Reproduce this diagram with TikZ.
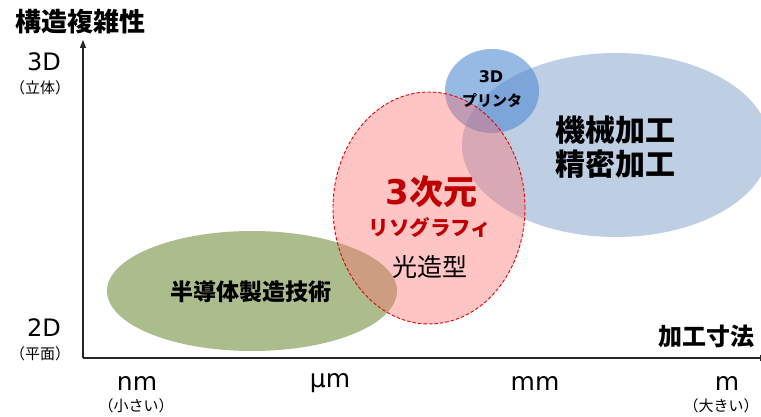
\documentclass[tikz,border=0pt]{standalone}
\usepackage{fontspec}
\setmainfont{Noto Sans CJK JP}
\newfontfamily\lat{DejaVu Sans}
\usetikzlibrary{arrows.meta}
\definecolor{grn}{RGB}{171,189,141}
\definecolor{bigblue}{RGB}{190,207,228}
\definecolor{smblue}{RGB}{80,140,210}
\definecolor{pinkfill}{RGB}{255,110,110}
\definecolor{redline}{RGB}{230,0,0}
\definecolor{darkred}{RGB}{192,0,0}
\tikzset{
  axis/.style={line width=1.2pt, draw=black!85},
  bigj/.style={font=\fontsize{30}{37}\selectfont\bfseries, align=center},
  unit/.style={font=\lat\fontsize{25}{28}\selectfont},
  paren/.style={font=\fontsize{15}{17}\selectfont, inner sep=1pt},
  axlabel/.style={font=\fontsize{26}{30}\selectfont\bfseries},
}
\begin{document}
\begin{tikzpicture}[x=1pt,y=-1pt]
\clip (0,0) rectangle (761,417);
\fill[white] (0,0) rectangle (761,417);
% ellipses
\fill[grn] (252,291) ellipse [x radius=145pt, y radius=60pt];
\fill[bigblue] (616,145) ellipse [x radius=154pt, y radius=92pt];
\fill[smblue, fill opacity=0.6] (492,91) ellipse [x radius=47pt, y radius=42pt];
\fill[pinkfill, fill opacity=0.4] (429,208) ellipse [x radius=96pt, y radius=116pt];
\draw[redline, line width=0.9pt, dash pattern=on 3.5pt off 2pt] (429,208) ellipse [x radius=96pt, y radius=116pt];
% axes
\coordinate (O) at (83,358);
\coordinate (Ytop) at (83,40);
\coordinate (Xend) at (768,358);
\draw[axis, -{Triangle[length=8pt,width=6pt]}] (O) -- (Ytop);
\draw[axis, -{Triangle[length=8pt,width=6pt]}] (O) -- (Xend);
% axis titles
\node[axlabel] (ytitle) at (81,22) {構造複雑性};
\node[font=\fontsize{24}{28}\selectfont\bfseries] (xtitle) at (706,336) {加工寸法};
% y labels
\node[font=\lat\fontsize{24}{28}\selectfont] (d3) at (44,62) {3D};
\node[paren] (d3p) at (40,88) {（立体）};
\node[font=\lat\fontsize{24}{28}\selectfont] (d2) at (44,328) {2D};
\node[paren] (d2p) at (40,354) {（平面）};
% x labels
\node[unit] (nm) at (137,383) {nm};
\node[paren] (nmp) at (136,406) {（小さい）};
\node[unit] (um) at (330,383) {μm};
\node[unit] (mm) at (535,383) {mm};
\node[unit] (m) at (727,383) {m};
\node[paren] (mp) at (721,406) {（大きい）};
% ellipse labels
\node[font=\fontsize{23}{26}\selectfont\bfseries] (semi) at (251,292) {半導体製造技術};
\node[bigj] (mech) at (615,147) {機械加工\\[-3pt]精密加工};
\node[font=\lat\fontsize{16}{18}\selectfont\bfseries] (p3d) at (491,77) {3D};
\node[font=\fontsize{15}{17}\selectfont\bfseries] (printer) at (492,101) {プリンタ};
\node[font=\lat\fontsize{34}{38}\selectfont\bfseries, text=darkred, inner sep=0pt] (three) at (397,192) {3};
\node[font=\fontsize{34}{38}\selectfont\bfseries, text=darkred, anchor=west, inner sep=0pt] (jigen) at (three.east) {次元};
\node[font=\fontsize{20.5}{24}\selectfont\bfseries, text=darkred] (litho) at (430,228) {リソグラフィ};
\node[font=\fontsize{25}{28}\selectfont] (kozo) at (430,267) {光造型};
\end{tikzpicture}
\end{document}
